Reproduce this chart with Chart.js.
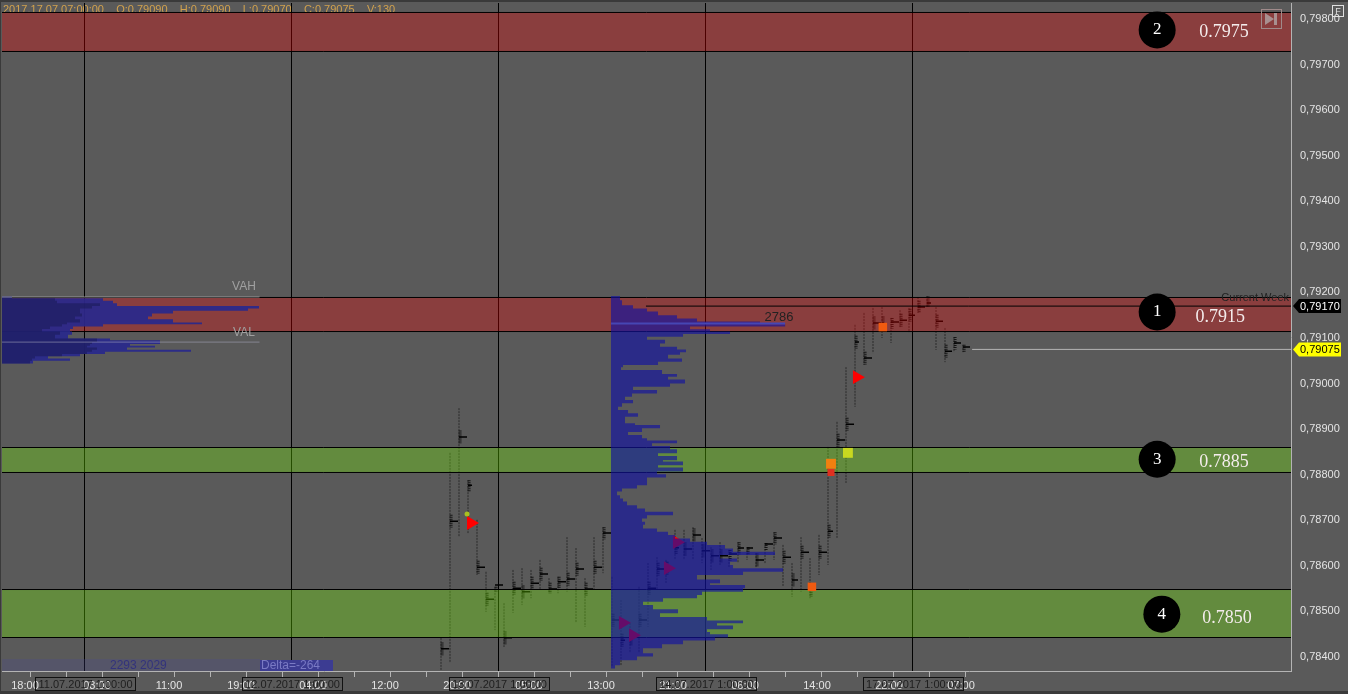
<!DOCTYPE html>
<html>
<head>
<meta charset="utf-8">
<title>AUDUSD volume profile</title>
<script src="https://cdn.jsdelivr.net/npm/chart.js@4/dist/chart.umd.min.js"></script>
<style>
  html, body { margin: 0; padding: 0; background: #5a5a5a; overflow: hidden; }
  canvas { display: block; }
</style>
</head>
<body>
<canvas id="profileChart" width="1348" height="694"></canvas>
<script>
// axis labels
const priceTicks = [0.798, 0.797, 0.796, 0.795, 0.794, 0.793, 0.792, 0.791, 0.79, 0.789, 0.788, 0.787, 0.786, 0.785, 0.784];
const timeTicks = [0, 1, 2, 3, 4, 5, 6, 7, 8, 9, 10, 11, 12, 13, 14, 15, 16, 17, 18, 19, 20, 21, 22, 23, 24, 25, 26];
const timeLabels = ['18:00', '', '03:00', '', '11:00', '', '19:00', '', '04:00', '', '12:00', '', '20:00', '', '05:00', '', '13:00', '', '21:00', '', '06:00', '', '14:00', '', '22:00', '', '07:00'];
const dayStarts = [1.514, 7.264, 13.014, 18.764, 24.514];
const dayLabels = ['11.07.2017 1:00:00', '12.07.2017 1:00:00', '13.07.2017 1:00:00', '14.07.2017 1:00:00', '17.07.2017 1:00:00'];

// support / resistance zones
const zoneTops = [0.798143, 0.791889, 0.788597, 0.785481];
const zoneBottoms = [0.797287, 0.791142, 0.788049, 0.784428];
const zoneKinds = ['red', 'red', 'green', 'green'];
const zoneMarkX = [31.31, 31.31, 31.31, 31.44];
const zoneMarkPrice = [0.79776, 0.79157, 0.78834, 0.78494];
const zoneNumbers = ['2', '1', '3', '4'];
const zoneLabelX = [33.17, 33.06, 33.17, 33.25];
const zoneLabelPrice = [0.79774, 0.79148, 0.78830, 0.78487];
const zoneLabels = ['0.7975', '0.7915', '0.7885', '0.7850'];

// 15 minute bars, left to right
const firstBarX = 11.417;
const barStep = 0.25;
const barHighs = [0.78442, 0.78848, 0.78946, 0.78788, 0.78701, 0.78587, 0.78554, 0.78518, 0.78591, 0.78595, 0.78591, 0.78613, 0.78573, 0.78576, 0.78663, 0.78639, 0.78573, 0.78663, 0.78685, 0.78576, 0.78525, 0.78475, 0.78554, 0.78606, 0.78619, 0.78613, 0.78679, 0.78679, 0.78685, 0.78661, 0.78641, 0.78652, 0.78635, 0.78652, 0.78641, 0.78628, 0.7865, 0.78674, 0.78646, 0.78606, 0.78663, 0.78617, 0.78668, 0.78861, 0.78916, 0.79036, 0.79129, 0.79155, 0.79166, 0.79168, 0.79144, 0.79161, 0.79166, 0.7919, 0.79192, 0.79168, 0.79122, 0.79102, 0.79085];
const barLows = [0.78371, 0.78387, 0.78663, 0.78672, 0.7858, 0.78499, 0.78459, 0.78422, 0.78497, 0.78514, 0.78529, 0.78547, 0.7854, 0.7854, 0.78543, 0.78475, 0.78466, 0.78547, 0.78584, 0.78378, 0.78382, 0.78409, 0.78409, 0.78466, 0.78547, 0.78562, 0.78613, 0.78613, 0.78613, 0.78606, 0.78591, 0.78602, 0.78597, 0.78608, 0.78613, 0.78595, 0.78606, 0.78613, 0.78554, 0.78532, 0.78543, 0.78529, 0.7858, 0.78602, 0.78661, 0.78782, 0.78949, 0.79041, 0.79067, 0.791, 0.79089, 0.79124, 0.79113, 0.79155, 0.79168, 0.79074, 0.79047, 0.79069, 0.79069];
const barPocPrices = [0.78418, 0.78698, 0.78883, 0.78777, 0.78597, 0.78527, 0.78558, 0.78442, 0.78551, 0.78543, 0.78562, 0.78582, 0.78549, 0.78565, 0.78571, 0.78593, 0.78549, 0.78597, 0.78672, 0.78481, 0.78437, 0.78440, 0.78481, 0.78551, 0.78593, 0.78595, 0.7864, 0.78637, 0.78668, 0.78633, 0.78622, 0.78622, 0.78626, 0.78639, 0.78639, 0.78613, 0.78648, 0.78661, 0.78619, 0.78569, 0.7863, 0.78547, 0.7863, 0.78676, 0.78876, 0.78911, 0.79091, 0.79056, 0.79133, 0.79133, 0.79135, 0.79139, 0.7915, 0.79168, 0.79177, 0.79137, 0.79071, 0.79089, 0.7908];
const barPocVolumes = [128, 128, 128, 64, 128, 128, 128, 128, 128, 128, 128, 128, 128, 128, 128, 128, 128, 128, 128, 128, 64, 48, 128, 128, 128, 96, 64, 128, 128, 128, 128, 128, 128, 96, 96, 128, 128, 128, 128, 96, 128, 48, 128, 80, 128, 128, 64, 128, 128, 32, 128, 112, 96, 112, 64, 112, 112, 112, 112];

// order flow markers
const markerX = [12.25, 12.14, 16.47, 16.75, 17.72, 17.97, 21.72, 22.25, 22.25, 22.72, 22.97, 23.69];
const markerPrices = [0.78694, 0.78714, 0.78475, 0.78448, 0.78595, 0.78652, 0.78554, 0.78824, 0.78805, 0.78848, 0.79014, 0.79124];
const markerColors = ['#ff0000', '#a8c020', '#ff0000', '#ff0000', '#ff0000', '#ff0000', '#f05a10', '#f08010', '#e03020', '#c8d820', '#ff0000', '#f05a10'];
const markerSizes = [8, 2.5, 8, 8, 8, 8, 6, 7, 5, 7, 8, 6];
const markerShapes = ['triangle', 'circle', 'triangle', 'triangle', 'triangle', 'triangle', 'rect', 'rect', 'rect', 'rect', 'triangle', 'rect'];

// composite volume profile, middle of the chart
const midProfileX = 16.139;
const midProfilePrices = [0.79192, 0.79183, 0.79172, 0.79165, 0.79158, 0.7915, 0.79143, 0.79136, 0.7913, 0.79125, 0.79119, 0.79114, 0.79109, 0.79103, 0.79096, 0.79088, 0.79081, 0.79075, 0.79069, 0.79063, 0.79055, 0.79048, 0.79041, 0.79036, 0.7903, 0.79021, 0.79015, 0.79009, 0.79, 0.78993, 0.78986, 0.78978, 0.78971, 0.78964, 0.78957, 0.78949, 0.78942, 0.78935, 0.78927, 0.7892, 0.78913, 0.78909, 0.78902, 0.78894, 0.78887, 0.7888, 0.78875, 0.78869, 0.78863, 0.78856, 0.78847, 0.78841, 0.78832, 0.78829, 0.78821, 0.78816, 0.78807, 0.78801, 0.78794,
  0.78785, 0.78777, 0.7877, 0.78763, 0.78755, 0.78748, 0.78741, 0.78733, 0.78726, 0.78719, 0.78711, 0.78704, 0.78697, 0.7869, 0.78682, 0.78675, 0.78668, 0.7866, 0.78653, 0.78646, 0.78638, 0.78631, 0.78624, 0.78616, 0.78609, 0.78602, 0.78595, 0.78587, 0.7858, 0.7857, 0.78562, 0.78558, 0.78551, 0.78543, 0.78536, 0.78529, 0.78521, 0.78514, 0.78505, 0.78496, 0.78488, 0.7848, 0.78474, 0.78469, 0.78461, 0.78455, 0.7845, 0.78443, 0.78436, 0.78428, 0.78419, 0.78408, 0.78401, 0.78393, 0.78382, 0.78375];
const midProfileVolumes = [144, 176, 352, 576, 752, 1056, 1376, 2384, 2786, 1264, 1584, 1904, 1152, 576, 864, 784, 1056, 1200, 1104, 912, 1136, 752, 192, 160, 816, 1056, 912, 1184, 944, 352, 736, 336, 224, 352, 176, 112, 272, 432, 224, 224, 384, 784, 496, 272, 496, 576, 1056, 656, 944, 1056, 752, 1056, 832, 1152, 752, 1152, 736, 880, 576,
  576, 416, 176, 96, 144, 192, 256, 416, 544, 992, 576, 496, 544, 512, 736, 912, 1024, 1264, 1536, 1824, 1952, 2624, 1744, 2016, 1904, 1952, 2752, 2112, 1376, 1744, 1584, 2144, 2112, 1456, 1376, 832, 512, 672, 1072, 784, 1536, 2112, 1696, 1952, 1536, 1584, 1872, 1664, 1152, 816, 512, 672, 416, 144, 64, 16];
const midPocPrice = 0.79132;
const midPocVolume = 2786;

// previous week profile, left edge
const leftProfileX = -0.7778;
const leftProfilePrices = [0.79191, 0.79187, 0.79182, 0.79176, 0.7917, 0.79165, 0.7916, 0.79154, 0.79147, 0.79141, 0.79134, 0.7913, 0.79125, 0.7912, 0.79114, 0.79107, 0.79099, 0.79095, 0.79091, 0.79087, 0.79083, 0.79079, 0.79074, 0.7907, 0.79065, 0.7906, 0.79055, 0.7905, 0.79044];
const leftProfileVolumes = [160, 1616, 1776, 1840, 4112, 3936, 2736, 2400, 2336, 2736, 3200, 1616, 1136, 1088, 1120, 1056, 1728, 2528, 2528, 2048, 2448, 2000, 3024, 1648, 1248, 736, 1088, 496, 80];
const leftCoreVolumes = [160, 848, 880, 1568, 1440, 1248, 1248, 1280, 1168, 1248, 1040, 960, 768, 640, 928, 848, 1520, 1520, 1440, 1408, 1360, 1520, 1440, 1360, 960, 528, 480, 448, 80];
const valueAreaHigh = 0.7919;
const valueAreaLow = 0.79091;
const valueAreaEnd = 6.375;

// live price lines and header
const currentWeekPrice = 0.7917;
const currentWeekStart = 17.11;
const lastPrice = 0.79075;
const lastPriceStart = 26.17;
const headerText = '2017.17.07 07:00:00    O:0.79090    H:0.79090    L:0.79070    C:0.79075    V:130';

const volumePerTick = 576;
const xMin = -0.7778;
const xMax = 35.0278;
const yMin = 0.783693;
const yMax = 0.798351;

const zoneFill = { red: 'rgba(253,0,0,0.3)', green: 'rgba(123,255,0,0.3)' };

function fmtPrice(v) {
  return v.toFixed(5).replace('.', ',');
}

// closed stepped outline of a profile, starts and ends on its base
function profileOutline(baseX, prices, volumes) {
  const pts = [{ x: baseX, y: prices[0] }];
  prices.forEach((p, i) => pts.push({ x: baseX + volumes[i] / volumePerTick, y: p }));
  pts.push({ x: baseX, y: prices[prices.length - 1] });
  return pts;
}

function flatLine(x1, x2, y) {
  return [{ x: x1, y: y }, { x: x2, y: y }];
}

// big points reserve their own radius around the chart area. With showLine on
// only the first and last point count, so those two get repeated with radius 0
function dotSet(xs, ys, colors, shapes, sizes, order, extra) {
  const pts = xs.map((x, i) => ({ x: x, y: ys[i] }));
  const last = pts.length - 1;
  return Object.assign({
    type: 'scatter',
    data: [pts[0], ...pts, pts[last]],
    showLine: true,
    borderWidth: 0,
    borderColor: 'transparent',
    fill: false,
    pointStyle: [shapes[0], ...shapes, shapes[last]],
    pointRadius: [0, ...sizes, 0],
    pointHoverRadius: 0,
    pointBorderWidth: 0,
    pointBackgroundColor: [colors[0], ...colors, colors[last]],
    order: order
  }, extra || {});
}

const barSegments = [];
const barBodies = [];
const barPocs = [];
barHighs.forEach((high, i) => {
  const x = firstBarX + i * barStep;
  const poc = barPocPrices[i];
  barSegments.push({ x: x, y: high }, { x: x, y: barLows[i] }, { x: x, y: NaN });
  barBodies.push({ x: x + 0.03, y: Math.min(high, poc + 0.00014) }, { x: x + 0.03, y: Math.max(barLows[i], poc - 0.00014) }, { x: x, y: NaN });
  barPocs.push({ x: x, y: poc }, { x: x + barPocVolumes[i] / volumePerTick, y: poc }, { x: x, y: NaN });
});

function lineSet(data, color, width, order, extra) {
  return Object.assign({
    type: 'scatter', data: data, showLine: true, borderColor: color, borderWidth: width,
    pointRadius: 0, pointHoverRadius: 0, tension: 0, fill: false, order: order, spanGaps: false
  }, extra || {});
}

const datasets = [];

// bottom layer first: higher order is painted earlier
dayStarts.forEach(x => datasets.push(lineSet([{ x: x, y: yMin }, { x: x, y: yMax }], '#000', 1, 90)));
datasets.push(lineSet(barSegments, 'rgba(30,30,30,0.8)', 1, 85, { borderDash: [2, 1] }));
datasets.push(lineSet(barBodies, 'rgba(10,10,10,0.85)', 3, 84, { borderDash: [1, 1] }));
datasets.push(lineSet(barPocs, '#000', 1.5, 83));

zoneTops.forEach((top, i) => {
  const bottom = zoneBottoms[i];
  datasets.push(lineSet(
    [{ x: xMin - 1, y: top }, { x: xMax + 1, y: top }, { x: xMax + 1, y: bottom }, { x: xMin - 1, y: bottom }, { x: xMin - 1, y: top }],
    '#000', 1, 70, { fill: 'shape', backgroundColor: zoneFill[zoneKinds[i]] }
  ));
});

datasets.push(dotSet(markerX, markerPrices, markerColors, markerShapes, markerSizes, 60, { rotation: 90 }));

datasets.push(lineSet(profileOutline(midProfileX, midProfilePrices, midProfileVolumes), 'transparent', 0, 50,
  { fill: 'shape', backgroundColor: 'rgba(19,19,161,0.65)', stepped: 'after' }));
datasets.push(lineSet(profileOutline(leftProfileX, leftProfilePrices, leftProfileVolumes), 'transparent', 0, 49,
  { fill: 'shape', backgroundColor: 'rgba(40,40,140,0.92)', stepped: 'after' }));
datasets.push(lineSet(profileOutline(leftProfileX, leftProfilePrices, leftCoreVolumes), 'transparent', 0, 48,
  { fill: 'shape', backgroundColor: 'rgba(25,25,85,0.55)', stepped: 'after' }));

datasets.push(lineSet(flatLine(midProfileX, midProfileX + midPocVolume / volumePerTick, midPocPrice), '#4646b4', 2, 40));
datasets.push(lineSet(flatLine(xMin, valueAreaEnd, valueAreaHigh), 'rgba(170,170,170,0.8)', 1, 39));
datasets.push(lineSet(flatLine(xMin, valueAreaEnd, valueAreaLow), 'rgba(170,170,190,0.55)', 1, 39));
datasets.push(lineSet(flatLine(currentWeekStart, xMax, currentWeekPrice), '#000', 1, 38));
datasets.push(lineSet(flatLine(lastPriceStart, xMax, lastPrice), '#b4b4b4', 1, 38));

datasets.push(dotSet(zoneMarkX, zoneMarkPrice, zoneNumbers.map(() => '#000'), zoneNumbers.map(() => 'circle'), zoneNumbers.map(() => 18.5), 10));

// header text goes under the zones, the rest on top
const underlayPlugin = {
  id: 'underlay',
  beforeDraw(chart) {
    const c = chart.ctx;
    c.save();
    c.fillStyle = '#5a5a5a';
    c.fillRect(0, 0, chart.width, chart.height);
    c.restore();
  },
  beforeDatasetsDraw(chart) {
    const c = chart.ctx;
    c.save();
    c.font = '11px "Liberation Sans"';
    c.fillStyle = '#d2a24e';
    c.textBaseline = 'alphabetic';
    c.fillText(headerText, 3, 13);
    c.restore();
  }
};

function priceTag(c, y, text, bg, fg) {
  c.fillStyle = bg;
  c.beginPath();
  c.moveTo(1293, y);
  c.lineTo(1299, y - 7);
  c.lineTo(1341, y - 7);
  c.lineTo(1341, y + 7);
  c.lineTo(1299, y + 7);
  c.closePath();
  c.fill();
  c.fillStyle = fg;
  c.font = '11px "Liberation Sans"';
  c.textAlign = 'left';
  c.textBaseline = 'middle';
  c.fillText(text, 1300, y + 0.5);
}

const overlayPlugin = {
  id: 'overlay',
  afterDraw(chart) {
    const c = chart.ctx;
    const sx = chart.scales.x;
    const sy = chart.scales.y;
    c.save();

    // volume strip at the bottom left
    c.fillStyle = 'rgba(70,70,150,0.25)';
    c.fillRect(2, 659, 258, 12);
    c.fillStyle = '#3c3c92';
    c.fillRect(260, 660, 73, 11);
    c.font = '12px "Liberation Sans"';
    c.textBaseline = 'middle';
    c.textAlign = 'left';
    c.fillStyle = '#33337c';
    c.fillText('2293 2029', 110, 666);
    c.fillStyle = '#7a7ac4';
    c.fillText('Delta=-264', 261, 666);

    // zone numbers and levels
    c.textAlign = 'center';
    zoneNumbers.forEach((n, i) => {
      c.fillStyle = '#fff';
      c.font = '17px "Liberation Serif"';
      c.fillText(n, sx.getPixelForValue(zoneMarkX[i]), sy.getPixelForValue(zoneMarkPrice[i]));
      c.fillStyle = '#f4ecec';
      c.font = '18px "Liberation Serif"';
      c.fillText(zoneLabels[i], sx.getPixelForValue(zoneLabelX[i]), sy.getPixelForValue(zoneLabelPrice[i]) + 1);
    });

    // small labels on the profiles
    c.font = '12px "Liberation Sans"';
    c.fillStyle = '#a0a0a0';
    c.fillText('VAH', 244, 287);
    c.fillText('VAL', 244, 333);
    c.fillStyle = '#222';
    c.font = '13px "Liberation Sans"';
    c.fillText('2786', 779, 317);
    c.font = '11px "Liberation Sans"';
    c.textAlign = 'right';
    c.fillText('Current Week', 1289, 298);

    // replay button and F box
    c.strokeStyle = '#a08a8a';
    c.lineWidth = 1;
    c.strokeRect(1261.5, 9.5, 20, 19);
    c.fillStyle = '#a89090';
    c.beginPath();
    c.moveTo(1265, 13);
    c.lineTo(1274, 19);
    c.lineTo(1265, 25);
    c.closePath();
    c.fill();
    c.fillRect(1274, 13, 3, 12);
    c.strokeStyle = '#e0e0e0';
    c.strokeRect(1332.5, 5.5, 11, 11);
    c.fillStyle = '#e0e0e0';
    c.font = '9px "Liberation Sans"';
    c.textAlign = 'center';
    c.fillText('F', 1338, 11.5);

    priceTag(c, sy.getPixelForValue(currentWeekPrice), fmtPrice(currentWeekPrice), '#000', '#fff');
    priceTag(c, sy.getPixelForValue(lastPrice), fmtPrice(lastPrice), '#ffff00', '#000');

    // boxed session dates on the time axis
    c.font = '11px "Liberation Sans"';
    c.textAlign = 'center';
    c.strokeStyle = '#111';
    dayStarts.forEach((x, i) => {
      const px = Math.round(sx.getPixelForValue(x));
      c.strokeRect(px - 49.5, 677.5, 100, 13);
      c.fillStyle = '#1e1e1e';
      c.fillText(dayLabels[i], px + 0.5, 684.5);
    });

    // window frame
    c.fillStyle = '#3a3a3a';
    c.fillRect(0, 0, chart.width, 2);
    c.fillRect(0, 691, chart.width, 3);
    c.fillRect(0, 0, 1, chart.height);
    c.restore();
  }
};

// drop the room Chart.js keeps for the outermost tick labels
function noAxisPadding(axis) {
  axis.paddingLeft = 0;
  axis.paddingRight = 0;
  axis.paddingTop = 0;
  axis.paddingBottom = 0;
}

const chart = new Chart(document.getElementById('profileChart'), {
  data: { datasets: datasets },
  plugins: [underlayPlugin, overlayPlugin],
  options: {
    responsive: false,
    animation: false,
    devicePixelRatio: 1,
    layout: { padding: { left: 2, top: 3, right: 0, bottom: 0 } },
    plugins: { legend: { display: false }, tooltip: { enabled: false } },
    events: [],
    scales: {
      x: {
        type: 'linear',
        min: xMin,
        max: xMax,
        afterBuildTicks: axis => { axis.ticks = timeTicks.map(v => ({ value: v })); },
        afterFit: axis => { axis.height = 23; noAxisPadding(axis); },
        grid: { drawOnChartArea: false, drawTicks: true, tickLength: 6, color: '#b4b4b4' },
        border: { color: '#b4b4b4' },
        ticks: {
          autoSkip: false, maxRotation: 0, padding: 2, labelOffset: -5, color: '#e4e4e4',
          font: { family: '"Liberation Sans"', size: 11 },
          callback: (v, i) => timeLabels[i]
        }
      },
      y: {
        type: 'linear',
        position: 'right',
        min: yMin,
        max: yMax,
        afterBuildTicks: axis => { axis.ticks = priceTicks.map(v => ({ value: v })); },
        afterFit: axis => { axis.width = 57; noAxisPadding(axis); },
        grid: { drawOnChartArea: false, drawTicks: false },
        border: { color: '#b4b4b4' },
        ticks: {
          padding: 9, color: '#e4e4e4',
          font: { family: '"Liberation Sans"', size: 11 },
          callback: v => fmtPrice(v)
        }
      }
    }
  }
});
</script>
</body>
</html>
